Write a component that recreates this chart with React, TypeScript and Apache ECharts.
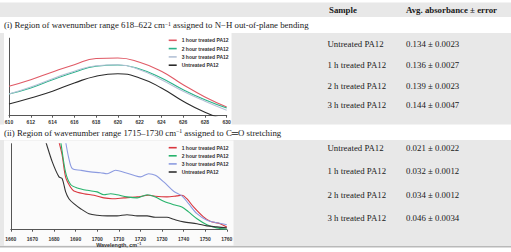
import React, { useEffect, useRef } from "react";
import * as echarts from "echarts";

// Treatment labels shared by both spectra
const seriesNames = [
  "1 hour treated PA12",
  "2 hour treated PA12",
  "3 hour treated PA12",
  "Untreated PA12",
];

// (i) N–H out-of-plane bending region, 610–630 cm-1
const nhWavenumbers = [610, 612, 614, 616, 618, 620, 622, 624, 626, 628, 630];
const nh1h = [0.1318, 0.1344, 0.1375, 0.1404, 0.1429, 0.1431, 0.1414, 0.1378, 0.1324, 0.1275, 0.1235];
const nh2h = [0.1287, 0.1311, 0.1344, 0.1374, 0.1398, 0.1403, 0.1387, 0.1351, 0.1304, 0.1264, 0.1231];
const nh3h = [0.1287, 0.1315, 0.1348, 0.1378, 0.14, 0.1404, 0.1384, 0.1344, 0.1298, 0.1258, 0.1222];
const nhUntreated = [0.1247, 0.1271, 0.1298, 0.1331, 0.1358, 0.1368, 0.1351, 0.1311, 0.1258, 0.1214, 0.1181];

// (ii) C=O stretching region, 1660–1760 cm-1: [wavenumber, absorbance]
const co1h = [
  [1681.5, 0.0474], [1682.3, 0.0439], [1683.8, 0.0372], [1685.4, 0.0262], [1687.7, 0.0212],
  [1689.2, 0.0194], [1693.8, 0.018], [1698.5, 0.0172], [1703.1, 0.0159], [1706.9, 0.0155],
  [1712.3, 0.0159], [1718.5, 0.0164], [1723.8, 0.0172], [1726.9, 0.0167], [1732.3, 0.0164],
  [1736.9, 0.0169], [1739.2, 0.0172], [1741.5, 0.0155], [1744.6, 0.0114], [1749.2, 0.0064],
  [1752.3, 0.0042], [1756.9, 0.003], [1760, 0.0014],
];
const co2h = [
  [1682.3, 0.0474], [1683.1, 0.0439], [1685.4, 0.0285], [1687.7, 0.0226], [1690.8, 0.0209],
  [1695.4, 0.0197], [1700, 0.0189], [1703.1, 0.0175], [1706.2, 0.018], [1709.2, 0.0175],
  [1713.8, 0.0164], [1718.5, 0.0159], [1723.1, 0.0175], [1726.9, 0.0164], [1730.8, 0.0142],
  [1735.4, 0.0125], [1739.2, 0.0114], [1742.3, 0.0089], [1746.2, 0.0055], [1750.8, 0.0025],
  [1755.4, 0.0009], [1760, 0.0002],
];
const co3h = [
  [1684.5, 0.0499], [1685.4, 0.0439], [1686.9, 0.0355], [1688.5, 0.0305], [1692.3, 0.0297],
  [1696.9, 0.0289], [1701.5, 0.0285], [1704.6, 0.028], [1708.5, 0.0297], [1713.1, 0.0285],
  [1716.9, 0.0272], [1720, 0.0264], [1723.8, 0.028], [1726.9, 0.0272], [1730.8, 0.0239],
  [1735.4, 0.0192], [1739.2, 0.0169], [1742.3, 0.013], [1746.2, 0.008], [1750.8, 0.0047],
  [1755.4, 0.0035], [1760, 0.0025],
];
const coUntreated = [
  [1675, 0.0478], [1676.2, 0.0439], [1679.2, 0.0339], [1682.3, 0.0264], [1683.8, 0.0255],
  [1685.4, 0.0189], [1686.9, 0.0155], [1689.2, 0.013], [1692.3, 0.0105], [1696.2, 0.008],
  [1700, 0.0072], [1704.6, 0.0069], [1709.2, 0.0069], [1713.8, 0.0075], [1718.5, 0.0069],
  [1723.1, 0.0069], [1726.9, 0.0062], [1732.3, 0.0062], [1735.4, 0.0052], [1740, 0.0039],
  [1746.2, 0.003], [1750.8, 0.0019], [1755.4, 0.0014], [1760, 0.0009],
];

// Table columns
const tableSamples = ["Untreated PA12", "1 h treated PA12", "2 h treated PA12", "3 h treated PA12"];
const nhMeans = [0.134, 0.136, 0.139, 0.144];
const nhErrors = [0.0023, 0.0027, 0.0023, 0.0047];
const coMeans = [0.021, 0.032, 0.034, 0.046];
const coErrors = [0.0022, 0.0012, 0.0012, 0.0034];

const nhColors = ["#e05a66", "#2bb38a", "#b4c2d6", "#2b2b2b"];
const coColors = ["#d9363e", "#26b36b", "#8c9be0", "#333333"];

const SANS = "Liberation Sans";
const SERIF = "Liberation Serif";
const GRAY = "#e8e8e8";

export default function App() {
  const ref = useRef<HTMLDivElement>(null);

  useEffect(() => {
    if (!ref.current) return;
    const chart = echarts.init(ref.current, undefined, { renderer: "svg" });

    const fmt = (m: number, e: number) => `${m.toFixed(3)} ± ${e.toFixed(4)}`;

    const cell = (text: string, x: number, y: number, bold = false, rich?: any) => ({
      type: "text",
      z: 1,
      silent: true,
      style: {
        text,
        x,
        y,
        fill: "#1a1a1a",
        fontSize: 8.8,
        fontFamily: SERIF,
        fontWeight: bold ? "bold" : "normal",
        align: "left",
        verticalAlign: "middle",
        textAlign: "left",
        textVerticalAlign: "middle",
        rich,
      },
    });

    const supRich = {
      sup: { fontSize: 5.8, fontFamily: SERIF, verticalAlign: "top", fill: "#1a1a1a" },
    };

    const nhRowsY = [44.3, 65.3, 85.5, 105.3];
    const coRowsY = [148.3, 171.3, 194.5, 217.7];

    const graphics: any[] = [
      { type: "rect", z: -1, silent: true, shape: { x: 0, y: 2.5, width: 511, height: 14.5 }, style: { fill: GRAY } },
      { type: "rect", z: -1, silent: true, shape: { x: 0, y: 33, width: 511, height: 91.5 }, style: { fill: GRAY } },
      { type: "rect", z: -1, silent: true, shape: { x: 0, y: 140, width: 511, height: 106 }, style: { fill: GRAY } },
      { type: "rect", z: -1, silent: true, shape: { x: 0, y: 246, width: 511, height: 1.6 }, style: { fill: "#b9b9b9" } },
      { type: "rect", z: -1, silent: true, shape: { x: 4, y: 33, width: 227.5, height: 92 }, style: { fill: "#ffffff" } },
      { type: "rect", z: -1, silent: true, shape: { x: 4, y: 140.5, width: 229.5, height: 105 }, style: { fill: "#fbfbfb" } },
      cell("Sample", 329, 10, true),
      cell("Avg. absorbance ± error", 406, 10, true),
      cell(
        "(i) Region of wavenumber range 618–622 cm{sup|−1} assigned to N−H out-of-plane bending",
        4,
        25,
        false,
        supRich
      ),
      cell(
        "(ii) Region of wavenumber range 1715–1730 cm{sup|−1} assigned to C═O stretching",
        4,
        132.5,
        false,
        supRich
      ),
    ];
    tableSamples.forEach((s, i) => {
      graphics.push(cell(s, 327.5, nhRowsY[i]));
      graphics.push(cell(fmt(nhMeans[i], nhErrors[i]), 406, nhRowsY[i]));
      graphics.push(cell(s, 327.5, coRowsY[i]));
      graphics.push(cell(fmt(coMeans[i], coErrors[i]), 406, coRowsY[i]));
    });

    const axisText = {
      fontSize: 5,
      fontWeight: "bold",
      fontFamily: SANS,
      color: "#333",
      formatter: (v: number) => String(v),
    };
    const axisLine = { show: true, lineStyle: { color: "#555", width: 1 } };

    const legendBase = {
      orient: "vertical",
      icon: "rect",
      itemWidth: 8,
      itemHeight: 1.6,
      itemGap: 2.3,
      padding: 0,
      selectedMode: false,
      textStyle: { fontSize: 5, fontWeight: "bold", fontFamily: SANS, color: "#333", lineHeight: 6 },
    };

    const nhSets = [nh1h, nh2h, nh3h, nhUntreated];
    const coSets = [co1h, co2h, co3h, coUntreated];

    const series: any[] = [];
    nhSets.forEach((vals, i) => {
      series.push({
        type: "line",
        name: seriesNames[i],
        xAxisIndex: 0,
        yAxisIndex: 0,
        data: nhWavenumbers.map((w, k) => [w, vals[k]]),
        smooth: 0.5,
        symbol: "none",
        z: 3,
        color: nhColors[i],
        lineStyle: { width: 1.1, color: nhColors[i] },
      });
    });
    coSets.forEach((pts, i) => {
      series.push({
        type: "line",
        name: seriesNames[i],
        xAxisIndex: 1,
        yAxisIndex: 1,
        data: pts,
        smooth: 0.3,
        symbol: "none",
        z: 3,
        color: coColors[i],
        lineStyle: { width: 1.1, color: coColors[i] },
      });
    });

    chart.setOption({
      animation: false,
      backgroundColor: "#ffffff",
      graphic: graphics,
      grid: [
        { left: 9, top: 38.2, width: 217.7, height: 77.5 },
        { left: 10.8, top: 143.7, width: 216, height: 86 },
      ],
      xAxis: [
        {
          type: "value",
          gridIndex: 0,
          min: 610,
          max: 630,
          interval: 2,
          axisLine,
          axisTick: { show: true, length: 2, lineStyle: { color: "#555" } },
          axisLabel: { ...axisText, margin: 3.3 },
          splitLine: { show: false },
        },
        {
          type: "value",
          gridIndex: 1,
          min: 1660,
          max: 1760,
          interval: 10,
          axisLine,
          axisTick: { show: true, length: 2, lineStyle: { color: "#555" } },
          axisLabel: { ...axisText, margin: 6.5 },
          splitLine: { show: false },
          name: "{a|Wavelength, cm}{s|−1}",
          nameLocation: "middle",
          nameGap: 11.5,
          nameTextStyle: {
            rich: {
              a: { fontSize: 5.4, fontWeight: "bold", fontFamily: SANS, color: "#333" },
              s: { fontSize: 3.8, fontWeight: "bold", fontFamily: SANS, color: "#333", verticalAlign: "top" },
            },
          },
        },
      ],
      yAxis: [
        {
          type: "value",
          gridIndex: 0,
          min: 0.12,
          max: 0.151,
          axisLine,
          axisTick: { show: false },
          axisLabel: { show: false },
          splitLine: { show: false },
        },
        {
          type: "value",
          gridIndex: 1,
          min: 0,
          max: 0.043,
          axisLine,
          axisTick: { show: false },
          axisLabel: { show: false },
          splitLine: { show: false },
        },
      ],
      legend: [
        {
          ...legendBase,
          left: 168.7,
          top: 37.3,
          data: seriesNames.map((n, i) => ({ name: n, itemStyle: { color: nhColors[i] } })),
        },
        {
          ...legendBase,
          left: 168.7,
          top: 144.7,
          itemGap: 2.1,
          data: seriesNames.map((n, i) => ({ name: n, itemStyle: { color: coColors[i] } })),
        },
      ],
      series,
    });

    return () => chart.dispose();
  }, []);

  return (
    <div
      ref={ref}
      style={{ position: "fixed", left: 0, top: 0, width: 511, height: 252 }}
    />
  );
}
